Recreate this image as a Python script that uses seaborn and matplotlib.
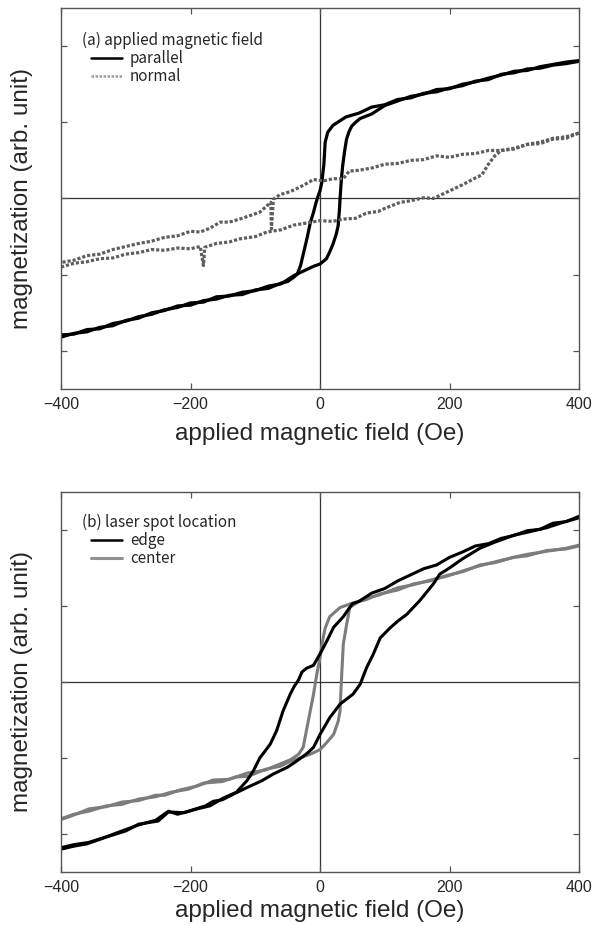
import numpy as np
import pandas as pd
import seaborn as sns
import matplotlib.pyplot as plt
from matplotlib.lines import Line2D

# (a) 平行 / 垂直 磁場
par_down_h = [400, 380, 360, 340, 320, 300, 280, 260, 240, 220, 200, 180, 160, 140, 120, 100, 80, 60, 40, 20,
              12, 8, 6, 3, 0, -3, -6, -10, -15, -20, -25, -30, -35, -40, -50, -60, -80, -100, -120, -140,
              -160, -180, -200, -220, -240, -260, -280, -300, -320, -340, -360, -380, -400]
par_down_m = [1.80, 1.77, 1.75, 1.71, 1.70, 1.65, 1.63, 1.56, 1.54, 1.48, 1.45, 1.40, 1.38, 1.32, 1.30, 1.23, 1.20, 1.12, 1.07, 0.96,
              0.87, 0.74, 0.45, 0.22, 0.10, 0.03, -0.05, -0.18, -0.32, -0.52, -0.70, -0.88, -0.99, -1.03, -1.09, -1.11, -1.18, -1.20, -1.26, -1.27,
              -1.32, -1.34, -1.40, -1.41, -1.47, -1.50, -1.57, -1.60, -1.67, -1.69, -1.75, -1.77, -1.82]
par_up_h = [-400, -380, -360, -340, -320, -300, -280, -260, -240, -220, -200, -180, -160, -140, -120, -100, -80, -60, -40, -30,
            -20, -10, 0, 10, 15, 20, 25, 28, 30, 31, 33, 35, 38, 41, 45, 49, 55, 62, 80, 100,
            120, 140, 160, 180, 200, 220, 240, 260, 280, 300, 320, 340, 360, 380, 400]
par_up_m = [-1.79, -1.78, -1.72, -1.71, -1.64, -1.61, -1.55, -1.52, -1.46, -1.43, -1.37, -1.36, -1.29, -1.28, -1.23, -1.21, -1.15, -1.12, -1.01, -0.97,
            -0.93, -0.89, -0.86, -0.79, -0.70, -0.60, -0.47, -0.36, -0.15, 0.00, 0.25, 0.43, 0.62, 0.78, 0.88, 0.95, 1.00, 1.05, 1.11, 1.22,
            1.28, 1.34, 1.37, 1.43, 1.44, 1.50, 1.53, 1.58, 1.62, 1.67, 1.68, 1.73, 1.76, 1.79, 1.81]
nor_down_h = [400, 380, 360, 340, 320, 300, 280, 260, 240, 220, 200, 180, 160, 140, 120, 100, 80, 60, 45, 36,
              20, 5, -10, -20, -31, -46, -62, -72, -75, -76, -93, -110, -124, -140, -154, -170, -185, -200, -220, -240,
              -260, -280, -300, -320, -340, -360, -380, -400]
nor_down_m = [0.86, 0.81, 0.79, 0.74, 0.71, 0.66, 0.63, 0.63, 0.59, 0.58, 0.54, 0.56, 0.51, 0.50, 0.46, 0.45, 0.40, 0.37, 0.36, 0.26,
              0.26, 0.23, 0.25, 0.20, 0.15, 0.09, 0.05, -0.01, -0.40, -0.05, -0.18, -0.23, -0.27, -0.31, -0.31, -0.39, -0.44, -0.43, -0.49, -0.51,
              -0.56, -0.59, -0.63, -0.67, -0.73, -0.75, -0.81, -0.84]
nor_up_h = [-400, -380, -360, -340, -320, -300, -280, -260, -240, -220, -200, -185, -180, -178, -160, -140, -124, -100, -82, -60,
            -41, -20, 0, 20, 36, 55, 72, 90, 100, 124, 140, 160, 175, 200, 220, 240, 250, 260, 270, 280,
            300, 320, 340, 360, 380, 400]
nor_up_m = [-0.90, -0.85, -0.83, -0.79, -0.78, -0.73, -0.71, -0.67, -0.68, -0.65, -0.66, -0.63, -0.88, -0.64, -0.59, -0.57, -0.53, -0.50, -0.44, -0.41,
            -0.35, -0.32, -0.29, -0.30, -0.27, -0.26, -0.19, -0.17, -0.13, -0.05, -0.03, 0.01, 0.00, 0.10, 0.18, 0.27, 0.31, 0.45, 0.56, 0.63,
            0.65, 0.71, 0.72, 0.78, 0.79, 0.86]

# (b) レーザースポット位置
edge_down_h = [400, 380, 360, 340, 320, 300, 280, 260, 240, 220, 200, 180, 160, 140, 120, 100, 80, 60, 50, 36,
               21, 10, 0, -10, -21, -28, -33, -40, -46, -57, -67, -77, -93, -103, -113, -129, -150, -170, -190, -210,
               -234, -250, -280, -300, -330, -360, -380, -400]
edge_down_m = [2.18, 2.11, 2.09, 2.01, 1.99, 1.93, 1.89, 1.82, 1.79, 1.71, 1.64, 1.54, 1.49, 1.41, 1.33, 1.23, 1.17, 1.06, 1.03, 0.86,
               0.72, 0.53, 0.37, 0.22, 0.18, 0.13, 0.03, -0.06, -0.16, -0.38, -0.64, -0.82, -1.00, -1.17, -1.30, -1.45, -1.53, -1.63, -1.67, -1.72,
               -1.71, -1.83, -1.87, -1.96, -2.04, -2.13, -2.16, -2.20]
edge_up_h = [-400, -380, -357, -331, -306, -280, -254, -234, -220, -203, -177, -165, -151, -130, -113, -90, -72, -50, -36, -20,
             -10, 0, 15, 31, 51, 62, 72, 82, 93, 108, 120, 134, 154, 175, 185, 200, 220, 247, 270, 299,
             320, 350, 375, 400]
edge_up_m = [-2.18, -2.14, -2.11, -2.04, -1.96, -1.88, -1.82, -1.70, -1.74, -1.70, -1.63, -1.57, -1.55, -1.46, -1.39, -1.30, -1.21, -1.12, -1.04, -0.94,
             -0.86, -0.69, -0.47, -0.29, -0.16, -0.03, 0.19, 0.36, 0.58, 0.71, 0.80, 0.89, 1.07, 1.29, 1.42, 1.50, 1.62, 1.76, 1.84, 1.93,
             1.97, 2.03, 2.10, 2.16]
cen_down_h = [400, 380, 350, 320, 299, 270, 247, 220, 195, 170, 144, 120, 93, 70, 51, 31, 15, 8, 4, 0,
              -5, -10, -15, -21, -26, -33, -45, -62, -85, -113, -140, -165, -190, -216, -240, -254, -280, -306, -330, -357,
              -380, -400]
cen_down_m = [1.79, 1.75, 1.73, 1.66, 1.64, 1.57, 1.54, 1.45, 1.40, 1.33, 1.29, 1.21, 1.16, 1.08, 1.04, 0.98, 0.86, 0.71, 0.54, 0.32,
              0.10, -0.16, -0.38, -0.64, -0.86, -0.95, -1.02, -1.08, -1.16, -1.20, -1.28, -1.29, -1.37, -1.42, -1.49, -1.49, -1.56, -1.58, -1.64, -1.67,
              -1.75, -1.81]
cen_up_h = [-400, -380, -357, -330, -306, -280, -254, -230, -203, -180, -151, -130, -110, -85, -62, -45, -31, -15, 0, 10,
            21, 28, 31, 33, 36, 41, 46, 62, 80, 93, 120, 144, 170, 195, 220, 247, 270, 299, 320, 350,
            380, 400]
cen_up_m = [-1.80, -1.74, -1.70, -1.63, -1.61, -1.54, -1.51, -1.45, -1.41, -1.33, -1.31, -1.25, -1.24, -1.15, -1.11, -1.04, -1.00, -0.95, -0.89, -0.80,
            -0.69, -0.52, -0.38, 0.01, 0.50, 0.75, 0.98, 1.07, 1.12, 1.15, 1.24, 1.28, 1.34, 1.39, 1.46, 1.53, 1.58, 1.64, 1.68, 1.72,
            1.76, 1.80]

x_ticks = [-400, -200, 0, 200, 400]
y_ticks = [-2, -1, 0, 1, 2]


def make_df(branches):
    rows = []
    for sample, branch, h, m in branches:
        rows.append(pd.DataFrame({'field': h, 'mag': m, 'sample': sample, 'branch': branch}))
    return pd.concat(rows, ignore_index=True)


df_a = make_df([('parallel', 'p1', par_down_h, par_down_m), ('parallel', 'p2', par_up_h, par_up_m),
                ('normal', 'n1', nor_down_h, nor_down_m), ('normal', 'n2', nor_up_h, nor_up_m)])
df_b = make_df([('center', 'c1', cen_down_h, cen_down_m), ('center', 'c2', cen_up_h, cen_up_m),
                ('edge', 'e1', edge_down_h, edge_down_m), ('edge', 'e2', edge_up_h, edge_up_m)])

sns.set_style('ticks')
plt.rcParams['font.family'] = ['Liberation Sans', 'DejaVu Sans']

fig = plt.figure(figsize=(6.02, 9.25), dpi=100)
ax1 = fig.add_axes([61 / 602, 1 - 389 / 925, 518 / 602, 381 / 925])
ax2 = fig.add_axes([61 / 602, 1 - 872 / 925, 518 / 602, 380 / 925])

pal_a = {'parallel': 'black', 'normal': '#5e5e5e'}
sns.lineplot(data=df_a, x='field', y='mag', hue='sample', style='sample', units='branch',
             estimator=None, sort=False, palette=pal_a, dashes={'parallel': '', 'normal': (1, 0.6)},
             linewidth=2.3, legend=False, ax=ax1)
pal_b = {'edge': 'black', 'center': '#7c7c7c'}
sns.lineplot(data=df_b, x='field', y='mag', hue='sample', units='branch',
             estimator=None, sort=False, palette=pal_b, linewidth=2.2, legend=False, ax=ax2)

legend_font = {'family': ['Noto Sans CJK JP', 'DejaVu Sans'], 'size': 11}
panels = [
    (ax1, '(a) applied magnetic field',
     [Line2D([], [], color='black', lw=1.8), Line2D([], [], color='#9a9a9a', lw=1.8, ls=(0, (1, 0.6)))],
     ['parallel', 'normal'], 0.916, 8),
    (ax2, '(b) laser spot location',
     [Line2D([], [], color='black', lw=1.8), Line2D([], [], color='#909090', lw=2.2)],
     ['edge', 'center'], 0.921, 3),
]

for ax, title, handles, labels, ty, xpad in panels:
    ax.axhline(0, color='#333333', lw=0.9, zorder=0)
    ax.axvline(0, color='#333333', lw=0.9, zorder=0)
    ax.set_xlim(-400, 400)
    ax.set_ylim(-2.5, 2.5)
    ax.set_xticks(x_ticks)
    ax.set_yticks(y_ticks)
    ax.set_xticklabels(['\u2212400', '\u2212200', '0', '200', '400'])
    ax.set_yticklabels([])
    ax.tick_params(direction='in', top=True, right=True, length=4, width=0.9,
                   color='#555555', labelsize=11.5, pad=6)
    for sp in ax.spines.values():
        sp.set_color('#555555')
        sp.set_linewidth(1.0)
    ax.set_xlabel('applied magnetic field (Oe)', fontsize=17.5, labelpad=xpad)
    ax.set_ylabel('magnetization (arb. unit)', fontsize=17.5, labelpad=14)
    ax.text(0.041, ty, title, transform=ax.transAxes, va='center', ha='left', fontdict=legend_font)
    ax.legend(handles, labels, loc='upper left', bbox_to_anchor=(0.058, ty - 0.026),
              frameon=False, borderpad=0, borderaxespad=0, handlelength=2.0,
              handletextpad=0.55, labelspacing=0.1, prop=legend_font)

fig.savefig('out.png', dpi=100)
